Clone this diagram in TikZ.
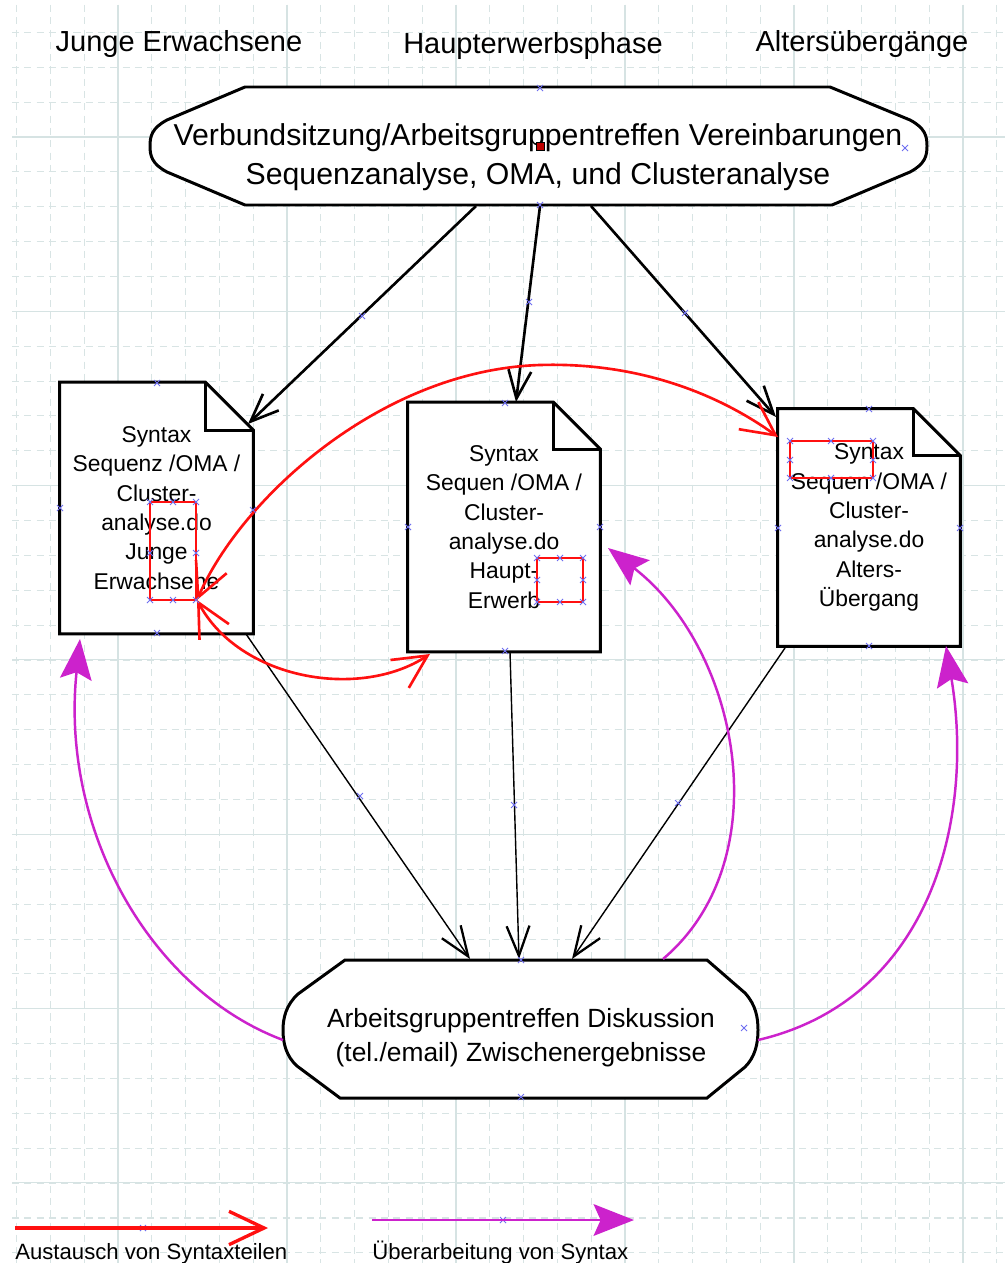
\documentclass[tikz,border=0pt]{standalone}
\usepackage{fontspec}
\setmainfont{Liberation Sans}
\usetikzlibrary{arrows.meta, calc}
\definecolor{gridMajor}{HTML}{D6E3E3}
\definecolor{gridMinor}{HTML}{D8E4E4}
\definecolor{markBlue}{HTML}{6E6EF0}
\definecolor{swapRed}{HTML}{FF1010}
\definecolor{revMagenta}{HTML}{CC22CC}
\pgfdeclarelayer{grid}
\pgfdeclarelayer{shapes}
\pgfsetlayers{grid,shapes,main}

\tikzset{
  head/.style={inner sep=0pt, font=\fontsize{16.5}{20}\selectfont},
  termtop/.style={align=center, inner sep=0pt, font=\fontsize{17.2}{22}\selectfont},
  termbot/.style={align=center, inner sep=0pt, font=\fontsize{15}{19.5}\selectfont},
  docnode/.style={align=center, inner sep=0pt, font=\fontsize{13}{16.7}\selectfont},
  legend/.style={anchor=base west, inner sep=0pt, font=\fontsize{12.6}{16}\selectfont},
  shapeline/.style={line width=1.7pt, fill=white, line join=miter},
  flowarrow/.style={-{Straight Barb[length=16pt,width=13pt]}, line width=1.5pt},
  thinarrow/.style={-{Straight Barb[length=17pt,width=13pt,line width=1.3pt]}, line width=0.8pt},
  swaparrow/.style={{Straight Barb[length=19pt,width=19pt]}-{Straight Barb[length=19pt,width=19pt]}, line width=1.5pt, draw=swapRed},
  swapone/.style={-{Straight Barb[length=20pt,width=19pt]}, line width=1.9pt, draw=swapRed},
  revarrow/.style={-{Stealth[length=23pt,width=18pt,inset=4pt]}, line width=1.4pt, draw=revMagenta},
  selbox/.style={draw=swapRed, line width=1.2pt},
  xmark/.style={draw=markBlue, line width=0.5pt}
}

% document frame with folded corner
\newcommand{\docframe}[2]{%
  \draw[shapeline] (#1.north west) -- ($(#1.north east)+(-#2,0)$) -- ($(#1.north east)+(0,#2)$)
    -- (#1.south east) -- (#1.south west) -- cycle;
  \draw[shapeline, fill=none] ($(#1.north east)+(-#2,0)$) -- ($(#1.north east)+(-#2,#2)$) -- ($(#1.north east)+(0,#2)$);
}

\begin{document}
\begin{tikzpicture}[x=0.02cm, y=-0.02cm]
    \useasboundingbox (0,0) rectangle (1005,1263);

    % grid of the drawing sheet
    \begin{pgfonlayer}{grid}
        \fill[white] (0,0) rectangle (1005,1263);
        \foreach \k in {0,...,29}
            \draw[gridMinor, line width=0.6pt, dash pattern=on 4pt off 3pt] ({16.6+33.8*\k},5) -- ({16.6+33.8*\k},1263);
        \foreach \k in {0,...,35}
            \draw[gridMinor, line width=0.6pt, dash pattern=on 4pt off 3pt] (12,{32.4+34.87*\k}) -- (1005,{32.4+34.87*\k});
        \foreach \k in {0,...,5}
            \draw[gridMajor, line width=0.6pt] ({118+169*\k},5) -- ({118+169*\k},1263);
        \foreach \k in {0,...,6}
            \draw[gridMajor, line width=0.6pt] (12,{137+174.3*\k}) -- (1005,{137+174.3*\k});
    \end{pgfonlayer}

    % column headings
    \node[head] (hJunge) at (179,44) {Junge Erwachsene};
    \node[head] (hHaupt) at (533,46) {Haupterwerbsphase};
    \node[head] (hAlter) at (862,44) {Altersübergänge};

    % meetings
    \node[termtop] (verbund) at (538,157) {Verbundsitzung/Arbeitsgruppentreffen Vereinbarungen\\Sequenzanalyse, OMA, und Clusteranalyse};
    \node[termbot] (diskussion) at (521,1038) {Arbeitsgruppentreffen Diskussion\\(tel./email) Zwischenergebnisse};

    % syntax files
    \node[docnode, minimum width=3.86cm, minimum height=5.02cm] (doc1) at (156.5,508)
        {Syntax\\Sequenz /OMA /\\Cluster-\\analyse.do\\Junge\\Erwachsene};
    \node[docnode, minimum width=3.84cm, minimum height=4.98cm] (doc2) at (504,527)
        {Syntax\\Sequen /OMA /\\Cluster-\\analyse.do\\Haupt-\\Erwerb};
    \node[docnode, minimum width=3.64cm, minimum height=4.74cm] (doc3) at (869,527.5)
        {Syntax\\Sequen /OMA /\\Cluster-\\analyse.do\\Alters-\\Übergang};

    \begin{pgfonlayer}{shapes}
        \draw[shapeline] (245,87) -- (830,87) -- (910,120) .. controls (925,128) and (927,136) .. (927,146)
            .. controls (927,156) and (925,164) .. (910,172) -- (832,205) -- (245,205) -- (167,172)
            .. controls (152,164) and (150,156) .. (150,146) .. controls (150,136) and (152,128) .. (167,120) -- cycle;
        \draw[shapeline] (345,960) -- (707,960) -- (745,993) .. controls (756,1005) and (758,1018) .. (758,1030)
            .. controls (758,1044) and (755,1057) .. (745,1067) -- (707,1098) -- (340,1098) -- (297,1066)
            .. controls (286,1056) and (283,1043) .. (283,1030) .. controls (283,1018) and (286,1005) .. (298,994) -- cycle;
        \docframe{doc1}{48}
        \docframe{doc2}{47}
        \docframe{doc3}{47}
    \end{pgfonlayer}

    % connector ends
    \coordinate (vL) at (476,206);
    \coordinate (vM) at (540,206);
    \coordinate (vR) at (591,206);
    \coordinate (d1in) at (248,424);
    \coordinate (d2in) at (516,402);
    \coordinate (d3in) at (776,417);
    \coordinate (d1out) at (246,634);
    \coordinate (d2out) at (510,652);
    \coordinate (d3out) at (785,648);
    \coordinate (kL) at (470,959);
    \coordinate (kM) at (519,959);
    \coordinate (kR) at (572,959);
    \coordinate (sw1) at (197,600);
    \coordinate (sw3) at (778,437);
    \coordinate (sw2) at (430,654);
    \coordinate (rvL) at (283,1040);
    \coordinate (rvT) at (663,959);
    \coordinate (rvR) at (758,1040);
    \coordinate (rv1) at (80,639);
    \coordinate (rv2) at (608,548);
    \coordinate (rv3) at (946,646);

    % agreements -> syntax files -> discussion
    \draw[flowarrow] (vL) -- (d1in);
    \draw[flowarrow] (vM) -- (d2in);
    \draw[flowarrow] (vR) -- (d3in);
    \draw[thinarrow] (d1out) -- (kL);
    \draw[thinarrow] (d2out) -- (kM);
    \draw[thinarrow] (d3out) -- (kR);

    % exchange of syntax parts
    \draw[swaparrow] (sw1) .. controls (240,500) and (380,370) .. (540,365) .. controls (640,362) and (720,395) .. (sw3);
    \draw[swaparrow] (sw1) .. controls (240,680) and (360,700) .. (sw2);

    % revision of syntax
    \draw[revarrow] (rvL) .. controls (150,990) and (60,830) .. (rv1);
    \draw[revarrow] (rvT) .. controls (780,860) and (740,650) .. (rv2);
    \draw[revarrow] (rvR) .. controls (930,1000) and (975,820) .. (rv3);

    % selection boxes
    \draw[selbox] (150,502) rectangle (196,600);
    \draw[selbox] (537,558) rectangle (583,602);
    \draw[selbox] (790,441) rectangle (873,478);
    \filldraw[fill=red!75!black, draw=black, line width=0.4pt] (536,142) rectangle (544,150);

    % handles
    \foreach \x/\y in {540/88, 540/205, 905/148, 362/316, 529/302, 685/313,
        157/383, 60/508, 253/510, 157/633, 150/502, 173/502, 196/502, 150/553, 196/553, 150/600, 173/600, 196/600,
        505/403, 408/527, 600/527, 505/651, 537/558, 560/558, 583/558, 537/580, 583/580, 537/602, 560/602, 583/602,
        869/409, 778/528, 960/528, 869/646, 790/441, 831/441, 873/441, 790/460, 873/460, 790/478, 831/478, 873/478,
        360/796, 514/805, 678/803, 521/960, 521/1097, 744/1028, 143/1228, 503/1220}
        \draw[xmark] (\x-3,\y-3) -- (\x+3,\y+3) (\x-3,\y+3) -- (\x+3,\y-3);

    % legend
    \coordinate (lgA) at (15,1228);
    \coordinate (lgB) at (268,1228);
    \coordinate (lgC) at (372,1220);
    \coordinate (lgD) at (634,1220);
    \draw[swapone] (lgA) -- (lgB);
    \draw[revarrow] (lgC) -- (lgD);
    \node[legend] (lgSwap) at (15,1259) {Austausch von Syntaxteilen};
    \node[legend] (lgRev) at (372,1259) {Überarbeitung von Syntax};
\end{tikzpicture}
\end{document}
